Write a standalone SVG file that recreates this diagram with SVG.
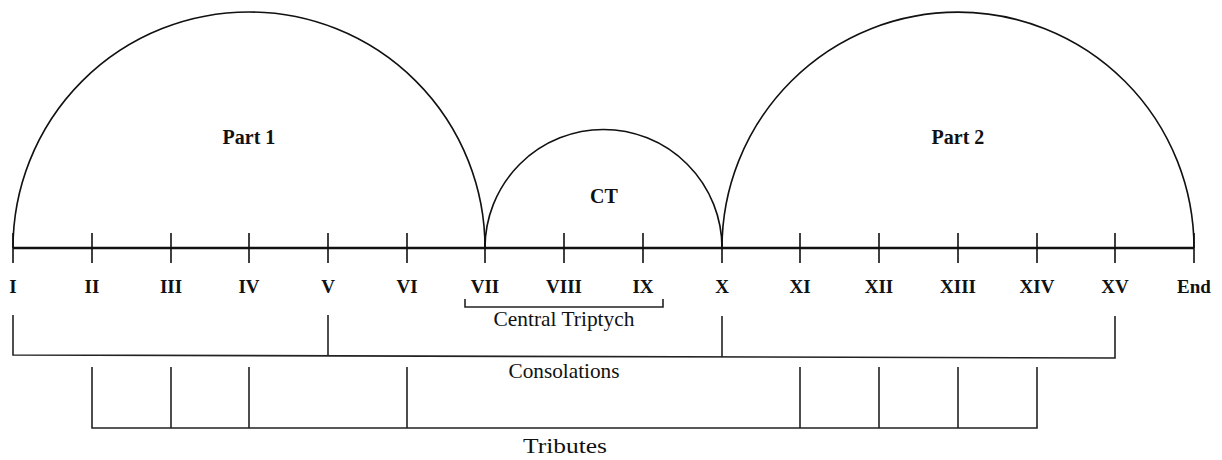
<svg xmlns="http://www.w3.org/2000/svg" width="1222" height="460" viewBox="0 0 1222 460">
<style>
.bg{fill:#ffffff}
.arc{fill:none;stroke:#111;stroke-width:1.6}
.axis{fill:none;stroke:#111;stroke-width:2.6}
.tick{fill:none;stroke:#111;stroke-width:1.6}
.br{fill:none;stroke:#222;stroke-width:1.6}
.lab{font-family:"Liberation Serif",serif;font-weight:bold;font-size:19px;fill:#111;text-anchor:middle}
.title{font-family:"Liberation Serif",serif;font-weight:bold;font-size:20px;fill:#111;text-anchor:middle}
.cap{font-family:"Liberation Serif",serif;font-size:21px;fill:#111;text-anchor:middle}
</style>
<rect class="bg" x="0" y="0" width="1222" height="460"/>
<g id="part1">
<path class="arc" d="M13,248 A236,236 0 0 1 485,248"/>
<text class="title" x="249" y="144">Part 1</text>
</g>
<g id="ct">
<path class="arc" d="M485,248 A118.5,118.5 0 0 1 722,248"/>
<text class="title" x="604" y="203">CT</text>
</g>
<g id="part2">
<path class="arc" d="M722,248 A236,236 0 0 1 1194,248"/>
<text class="title" x="958" y="144">Part 2</text>
</g>
<g id="axis">
<line class="axis" x1="13" y1="248" x2="1194" y2="248"/>
<path class="tick" d="M13,233V263M92,233V263M171,233V263M249,233V263M328,233V263M407,233V263M485,233V263M564,233V263M643,233V263M722,233V263M800,233V263M879,233V263M958,233V263M1037,233V263M1115,233V263M1194,233V263"/>
</g>
<g id="labels">
<text class="lab" x="13" y="293">I</text>
<text class="lab" x="92" y="293">II</text>
<text class="lab" x="171" y="293">III</text>
<text class="lab" x="249" y="293">IV</text>
<text class="lab" x="328" y="293">V</text>
<text class="lab" x="407" y="293">VI</text>
<text class="lab" x="485" y="293">VII</text>
<text class="lab" x="564" y="293">VIII</text>
<text class="lab" x="643" y="293">IX</text>
<text class="lab" x="722" y="293">X</text>
<text class="lab" x="800" y="293">XI</text>
<text class="lab" x="879" y="293">XII</text>
<text class="lab" x="958" y="293">XIII</text>
<text class="lab" x="1037" y="293">XIV</text>
<text class="lab" x="1115" y="293">XV</text>
<text class="lab" x="1194" y="293">End</text>
</g>
<g id="connectors">
<g id="central-triptych">
<path class="br" d="M465,299V307H663V299"/>
<text class="cap" x="564" y="326" textLength="141" lengthAdjust="spacingAndGlyphs">Central Triptych</text>
</g>
<g id="consolations">
<path class="br" d="M13,315V355L1115,358V316"/>
<path class="br" d="M328,315V355.9M722,316V356.9"/>
<text class="cap" x="564" y="378" textLength="111" lengthAdjust="spacingAndGlyphs">Consolations</text>
</g>
<g id="tributes">
<path class="br" d="M92,367V428H1037V367"/>
<path class="br" d="M171,367V428M249,367V428M407,367V428M800,367V428M879,367V428M958,367V428"/>
<text class="cap" x="565" y="453" textLength="84" lengthAdjust="spacingAndGlyphs">Tributes</text>
</g>
</g>
</svg>
